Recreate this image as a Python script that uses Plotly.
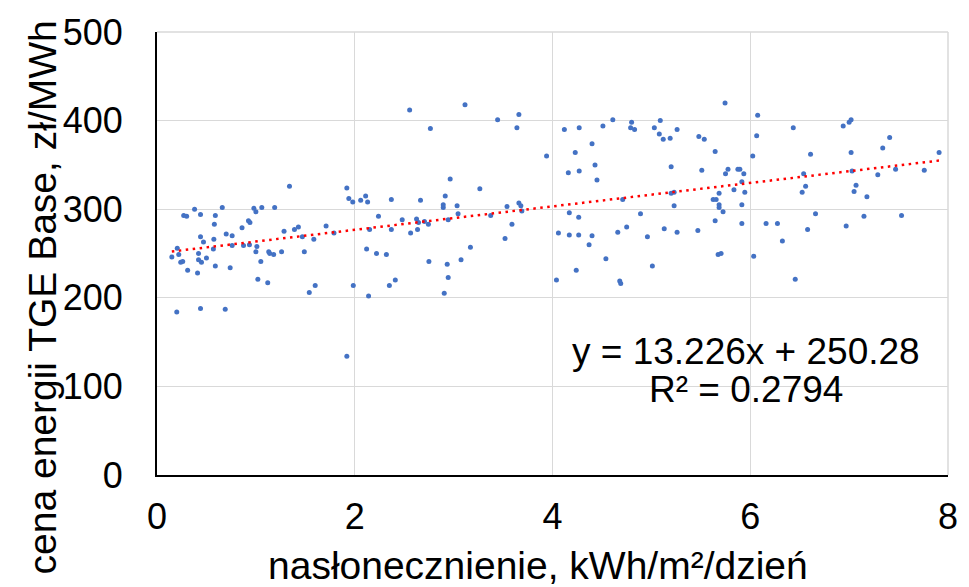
import plotly.graph_objects as go
import numpy as np

# solar irradiation, kWh/m2/day
irr = [0.15, 0.205, 0.22, 0.24, 0.26, 0.2, 0.27, 0.30, 0.31, 0.38,
       0.41, 0.42, 0.42, 0.45, 0.44, 0.44, 0.44, 0.47, 0.50, 0.57,
       0.575, 0.59, 0.58, 0.59, 0.66, 0.69, 0.70, 0.74, 0.76, 0.76,
       0.86, 0.875, 0.925, 0.94, 0.935, 0.98, 1.0, 1.0, 1.01, 1.02,
       1.05, 1.06, 1.12, 1.13, 1.14, 1.18, 1.19, 1.26, 1.285, 1.34,
       1.39, 1.43, 1.47, 1.49, 1.54, 1.586, 1.60, 1.71, 1.79, 1.92,
       1.92, 1.94, 1.98, 1.985,
       2.06, 2.11, 2.13, 2.12, 2.14, 2.15, 2.22, 2.24, 2.32, 2.35,
       2.37, 2.37, 2.41, 2.48, 2.555, 2.565, 2.625, 2.635, 2.645, 2.665,
       2.705, 2.745, 2.75, 2.765, 2.895, 2.895, 2.905, 2.915, 2.935, 2.945,
       2.945, 2.965, 3.035, 3.045, 3.075, 3.115, 3.17, 3.265, 3.375, 3.445,
       3.52, 3.54, 3.59, 3.64, 3.66, 3.66, 3.68, 3.69, 3.94,
       4.04, 4.06, 4.12, 4.16, 4.17, 4.17, 4.23, 4.24, 4.265, 4.265,
       4.27, 4.27, 4.37, 4.40, 4.40, 4.43, 4.45, 4.51, 4.54, 4.61,
       4.66, 4.68, 4.69, 4.71, 4.75, 4.80, 4.79, 4.83, 4.89, 4.96,
       5.01, 5.03, 5.09, 5.08, 5.12, 5.13, 5.19, 5.20, 5.20, 5.23,
       5.23, 5.26, 5.26, 5.47, 5.48, 5.51, 5.535, 5.625, 5.645, 5.645,
       5.655, 5.675, 5.685, 5.685, 5.685, 5.705, 5.725, 5.745, 5.75, 5.775,
       5.835, 5.875, 5.895, 5.915, 5.915, 5.915, 5.935, 5.945, 6.025, 6.035,
       6.065, 6.075, 6.16, 6.275, 6.325, 6.435, 6.455, 6.525, 6.54, 6.56,
       6.58, 6.61, 6.66, 6.94, 6.97, 7.00, 7.02, 7.02, 7.03, 7.05,
       7.07, 7.15, 7.18, 7.29, 7.34, 7.41, 7.47, 7.53, 7.76, 7.91]

# TGE Base price, PLN/MWh
price = [246, 256, 249, 240, 241, 184, 293, 292, 231, 300,
         228, 250, 243, 240, 294, 269, 188, 263, 245, 255,
         266, 293, 283, 236, 302, 187, 272, 234, 270, 259,
         279, 259, 287, 285, 260, 301, 297, 252, 258, 221,
         241, 302, 217, 252, 250, 249, 302, 252, 275, 326,
         277, 280, 269, 252, 206, 266, 214, 281, 273, 324,
         134, 312, 308, 214,
         310, 315, 308, 255, 202, 277, 250, 292, 249, 214,
         277, 311, 220, 288, 412, 273, 289, 277, 285, 310,
         286, 283, 241, 391, 302, 305, 205, 315, 238, 288,
         223, 334, 304, 295, 243, 418, 257, 323, 293, 401,
         267, 303, 283, 392, 407, 307, 304, 298, 360,
         220, 273, 390, 341, 296, 271, 364, 231, 291, 271,
         392, 343, 260, 270, 374, 350, 333, 394, 244, 401,
         274, 219, 216, 311, 280, 398, 392, 390, 295, 269,
         236, 392, 400, 385, 379, 278, 380, 348, 318, 319,
         304, 390, 274, 276, 382, 344, 379, 311, 365, 287,
         311, 249, 318, 305, 302, 250, 297, 420, 340, 345,
         322, 345, 345, 331, 305, 284, 340, 319, 360, 247,
         383, 406, 284, 284, 264, 392, 221, 319, 340, 326,
         277, 362, 295, 394, 281, 398, 401, 364, 343, 320,
         327, 292, 314, 339, 369, 381, 345, 293, 344, 364]

# linear trend (from the chart's label)
slope = 13.226
intercept = 250.28
r2 = 0.2794

x_ticks = [0, 2, 4, 6, 8]
y_ticks = [0, 100, 200, 300, 400, 500]
x_title = "nasłonecznienie, kWh/m²/dzień"
y_title = "cena energii TGE Base, zł/MWh"

FONT = "Liberation Sans, Arial, sans-serif"
ML, MR, MT, MB = 157, 11, 32, 112
PW = 969 - ML - MR
PH = 587 - MT - MB

tx = np.array([min(irr), max(irr)])
ty = slope * tx + intercept

fig = go.Figure()
fig.add_trace(go.Scatter(
    x=irr, y=price, mode="markers",
    marker=dict(size=5, color="#4472C4", line=dict(width=0)),
    showlegend=False, hoverinfo="x+y"))
fig.add_trace(go.Scatter(
    x=tx, y=ty, mode="lines",
    line=dict(color="#FF0000", width=2.5, dash="2.5px,4.5px"),
    showlegend=False, hoverinfo="skip"))

fig.update_layout(
    width=969, height=587,
    margin=dict(l=ML, r=MR, t=MT, b=MB),
    paper_bgcolor="white", plot_bgcolor="white",
    font=dict(family=FONT, color="black"),
    xaxis=dict(range=[0, 8], tickvals=x_ticks, ticks="",
               showgrid=True, gridcolor="#d9d9d9", gridwidth=1,
               zeroline=False, showline=True, linecolor="black", linewidth=2,
               tickfont=dict(size=36, family=FONT, color="black"),
               ticklabelstandoff=9, ticklabeloverflow="allow"),
    yaxis=dict(range=[0, 500], tickvals=y_ticks, ticks="",
               showgrid=True, gridcolor="#d9d9d9", gridwidth=1,
               zeroline=False, showline=True, linecolor="black", linewidth=2,
               tickfont=dict(size=36, family=FONT, color="black"),
               ticklabelstandoff=25, ticklabeloverflow="allow"),
)

# border gridlines at top (500) and right (8)
fig.add_shape(type="line", xref="paper", yref="paper", x0=0, x1=1, y0=1, y1=1,
              line=dict(color="#d9d9d9", width=1.5), layer="below")
fig.add_shape(type="line", xref="paper", yref="paper", x0=1, x1=1, y0=0, y1=1,
              line=dict(color="#d9d9d9", width=1.5), layer="below")

fig.add_annotation(xref="paper", yref="paper", x=(543 - ML) / PW, y=(475 - 565) / PH,
                   text=x_title, showarrow=False, xanchor="center", yanchor="middle",
                   font=dict(size=39, family=FONT, color="black"))
fig.add_annotation(xref="paper", yref="paper", x=(41 - ML) / PW, y=(475 - 297) / PH,
                   text=y_title, showarrow=False, xanchor="center", yanchor="middle",
                   textangle=-90, font=dict(size=39, family=FONT, color="black"))
fig.add_annotation(xref="x", yref="y", x=5.96, y=139,
                   text=f"y = {slope}x + {intercept}", showarrow=False,
                   xanchor="center", yanchor="middle",
                   font=dict(size=37, family=FONT, color="black"))
fig.add_annotation(xref="x", yref="y", x=5.96, y=96,
                   text=f"R² = {r2}", showarrow=False,
                   xanchor="center", yanchor="middle",
                   font=dict(size=37, family=FONT, color="black"))

fig.write_html("out.html")
